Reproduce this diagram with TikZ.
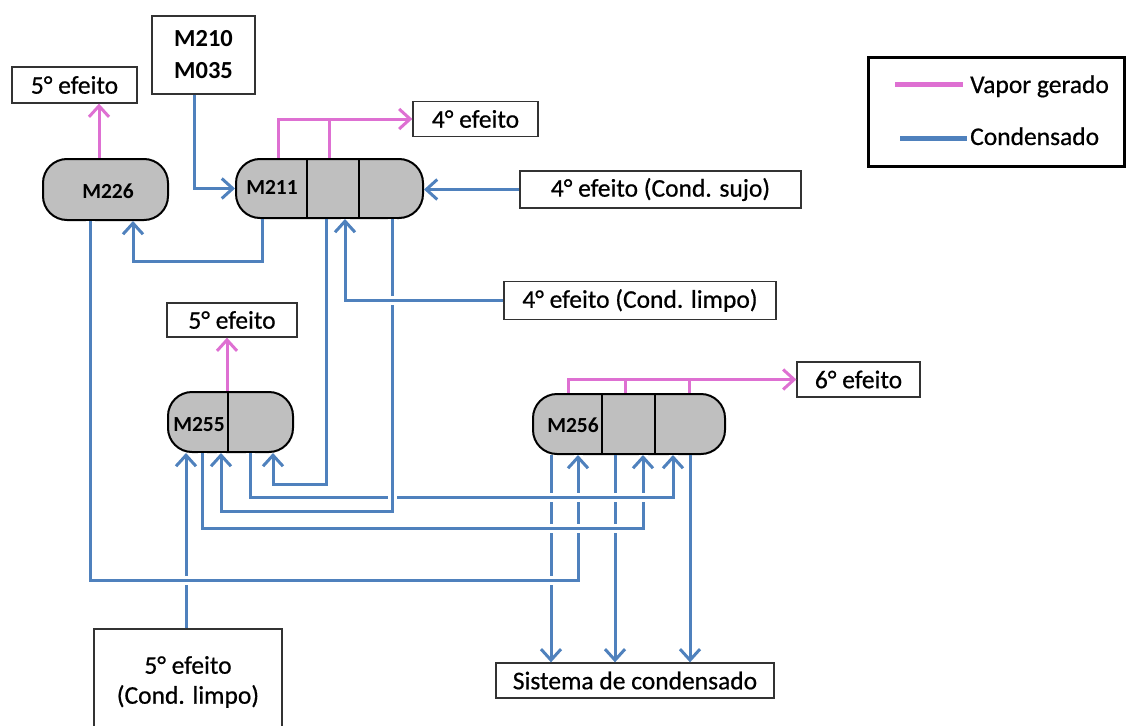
\documentclass[tikz,border=0pt]{standalone}
\usepackage{fontspec}
\setmainfont{Carlito}
\newfontfamily\heavyfont[FakeBold=0.6]{Carlito}
\usetikzlibrary{arrows.meta}
\definecolor{vapor}{RGB}{222,112,210}
\definecolor{conds}{RGB}{79,129,189}
\definecolor{vesselgray}{RGB}{191,191,191}
\begin{document}
\begin{tikzpicture}[x=1pt,y=-1pt,
  lbl/.style={font=\heavyfont\fontsize{25.5pt}{30pt}\selectfont},
  box/.style={draw=black!80, line width=1.3pt, fill=white, inner sep=0pt, lbl},
  tank/.style={draw=black, line width=2pt, fill=vesselgray, rounded corners=24pt, inner sep=0pt},
  tag/.style={font=\fontsize{21.5pt}{24pt}\bfseries\selectfont, inner sep=0pt},
  tip/.style={-{Straight Barb[length=11pt,width=20pt]}},
  vap/.style={draw=vapor, line width=3pt},
  cond/.style={draw=conds, line width=3pt},
  over/.style={preaction={draw=white,line width=9pt,-}},
  wall/.style={draw=black, line width=2pt},
]
\useasboundingbox (0,0) rectangle (1126,725);

% ---------- boxes ----------
\node[box, minimum width=125pt, minimum height=36pt] (e5a) at (74.5,85) {5° efeito};
\node[box, minimum width=103pt, minimum height=78pt, align=center,
      font=\fontsize{24.5pt}{32pt}\bfseries\selectfont] (m210) at (203.5,55) {M210\\M035};
\node[box, minimum width=125pt, minimum height=35pt] (e4) at (475.5,119) {4° efeito};
\node[box, minimum width=281pt, minimum height=37pt] (sujo) at (660.5,189.5) {4° efeito (Cond. sujo)};
\node[box, minimum width=272pt, minimum height=38pt] (limpo) at (640,300.5) {4° efeito (Cond. limpo)};
\node[box, minimum width=130pt, minimum height=34pt] (e5b) at (232,320) {5° efeito};
\node[box, minimum width=123pt, minimum height=35pt] (e6) at (858.5,379.5) {6° efeito};
\node[box, minimum width=278pt, minimum height=35pt] (sist) at (635,680.5) {Sistema de condensado};
\node[box, minimum width=188pt, minimum height=106pt, align=center] (limpo5) at (188,682) {5° efeito\\(Cond. limpo)};

% ---------- vessels ----------
\node[tank, minimum width=125pt, minimum height=61pt] (m226) at (105.5,189.5) {};
\node[tank, minimum width=187pt, minimum height=59pt] (m211) at (329.5,188.5) {};
\node[tank, minimum width=125pt, minimum height=60pt] (m255) at (230.5,422) {};
\node[tank, minimum width=192pt, minimum height=60pt] (m256) at (629,424) {};

\draw[wall] (307,0 |- m211.north) -- (307,0 |- m211.south);
\draw[wall] (359,0 |- m211.north) -- (359,0 |- m211.south);
\draw[wall] (228,0 |- m255.north) -- (228,0 |- m255.south);
\draw[wall] (602,0 |- m256.north) -- (602,0 |- m256.south);
\draw[wall] (655,0 |- m256.north) -- (655,0 |- m256.south);

\node[tag] (t226) at (108,191) {M226};
\node[tag] (t211) at (272,187) {M211};
\node[tag] (t255) at (199,425) {M255};
\node[tag] (t256) at (573,425) {M256};

% ---------- generated vapour ----------
\draw[vap,tip] (99,0 |- m226.north) -- (99,0 |- e5a.south);
\draw[vap,tip] (278,0 |- m211.north) |- (e4.west);
\draw[vap] (329,0 |- m211.north) -- (329,0 |- e4.west);
\draw[vap,tip] (227,0 |- m255.north) -- (227,0 |- e5b.south);
\draw[vap,tip] (568,0 |- m256.north) |- (e6.west);
\draw[vap] (625,0 |- m256.north) -- (625,0 |- e6.west);
\draw[vap] (689,0 |- m256.north) -- (689,0 |- e6.west);

% ---------- condensate ----------
\draw[cond,tip] (194,0 |- m210.south) |- (m211.west);
\draw[cond,tip] (sujo.west) -- (sujo.west -| m211.east);
\draw[cond,tip] (262,0 |- m211.south) |- (133,261) -- (133,0 |- m226.south);
\draw[cond,tip] (326,0 |- m211.south) |- (273,484) -- (273,0 |- m255.south);

% lines that are crossed (drawn first, broken by the later ones)
\draw[cond,tip] (551,0 |- m256.south) -- (551,0 |- sist.north);
\draw[cond,tip] (615,0 |- m256.south) -- (615,0 |- sist.north);
\draw[cond,tip] (690,0 |- m256.south) -- (690,0 |- sist.north);
\draw[cond,tip] (186,0 |- limpo5.north) -- (186,0 |- m255.south);

\draw[cond,over,tip] (90,0 |- m226.south) |- (578,580) -- (578,0 |- m256.south);
\draw[cond,over,tip] (202,0 |- m255.south) |- (643,528) -- (643,0 |- m256.south);
\draw[cond,over,tip] (250,0 |- m255.south) |- (673,497) -- (673,0 |- m256.south);
\draw[cond,over,tip] (392,0 |- m211.south) |- (221,511) -- (221,0 |- m255.south);
\draw[cond,over,tip] (limpo.west) -| (345,0 |- m211.south);

% ---------- legend ----------
\node[draw=black, line width=3pt, minimum width=256pt, minimum height=108pt, inner sep=0pt] (legend) at (996,112) {};
\draw[vap, line width=5pt] (895,84) -- (963,84);
\draw[cond, line width=5pt] (900,138) -- (967,138);
\node[lbl, anchor=base west, inner sep=0pt] (lv) at (970,93) {Vapor gerado};
\node[lbl, anchor=base west, inner sep=0pt] (lc) at (970,145) {Condensado};
\end{tikzpicture}
\end{document}
